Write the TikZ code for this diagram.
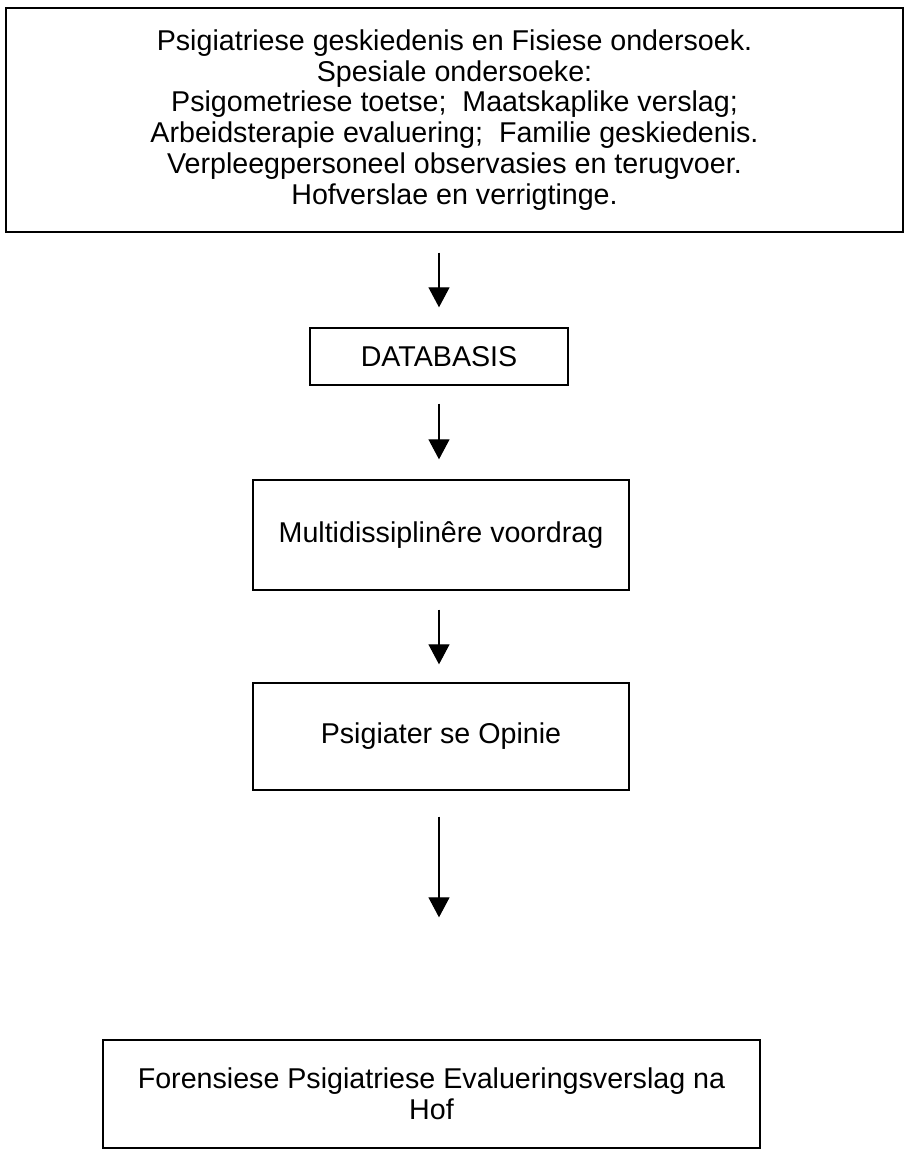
\documentclass[tikz,border=0pt]{standalone}
\usepackage{fontspec}
\setmainfont{Liberation Sans}
\usepackage{tikz}
\usetikzlibrary{arrows.meta, positioning}

\begin{document}
\begin{tikzpicture}[
  x=0.02cm, y=-0.02cm,
  box/.style={draw, line width=0.8pt, align=center, inner sep=0pt},
  arr/.style={-{Triangle[length=0.4cm, width=0.42cm]}, line width=0.7pt},
  every node/.style={font=\fontsize{16.3}{17.6}\selectfont}
]
  \useasboundingbox (0,0) rectangle (906,1152);

  \node[box, minimum width=17.94cm, minimum height=4.48cm] (sources) at (454.5,120)
    {Psigiatriese geskiedenis en Fisiese ondersoek.\\Spesiale ondersoeke:\\Psigometriese toetse;\ \ Maatskaplike verslag;\\Arbeidsterapie evaluering;\ \ Familie geskiedenis.\\Verpleegpersoneel observasies en terugvoer.\\Hofverslae en verrigtinge.};
  \node[box, minimum width=5.16cm, minimum height=1.14cm] (databasis) at (439,356.5) {DATABASIS};
  \node[box, minimum width=7.52cm, minimum height=2.2cm] (voordrag) at (441,535) {Multidissiplinêre voordrag};
  \node[box, minimum width=7.52cm, minimum height=2.14cm] (opinie) at (441,736.5) {Psigiater se Opinie};
  \node[box, minimum width=13.14cm, minimum height=2.16cm] (verslag) at (431.5,1094)
    {Forensiese Psigiatriese Evalueringsverslag na\\Hof};

  \draw[arr, shorten <=0.4cm, shorten >=0.4cm] (databasis.north |- sources.south) -- (databasis.north);
  \draw[arr, shorten <=0.36cm, shorten >=0.4cm] (databasis.south) -- (databasis.south |- voordrag.north);
  \draw[arr, shorten <=0.38cm, shorten >=0.36cm] (databasis.south |- voordrag.south) -- (databasis.south |- opinie.north);
  \draw[arr, shorten <=0.52cm, shorten >=2.44cm] (databasis.south |- opinie.south) -- (databasis.south |- verslag.north);
\end{tikzpicture}
\end{document}
